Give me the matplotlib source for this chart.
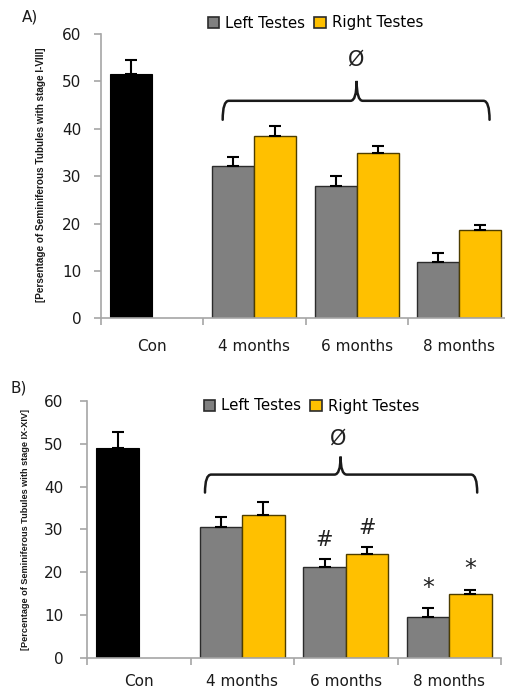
import matplotlib
matplotlib.use("Agg")
import matplotlib.pyplot as plt
import numpy as np
from matplotlib.path import Path
from matplotlib.patches import PathPatch, Patch

categories = ["Con", "4 months", "6 months", "8 months"]

# Panel A (stage I-VIII)
a_con, a_con_err = 51.5, 3.1
a_left = [32.2, 28.0, 11.9]
a_left_err = [1.8, 2.1, 1.8]
a_right = [38.4, 34.9, 18.7]
a_right_err = [2.2, 1.4, 0.9]

# Panel B (stage IX-XIV)
b_con, b_con_err = 49.1, 3.6
b_left = [30.5, 21.1, 9.4]
b_left_err = [2.3, 2.0, 2.1]
b_right = [33.3, 24.2, 14.9]
b_right_err = [3.1, 1.7, 1.0]

b_left_marks = ["", "#", "*"]
b_right_marks = ["", "#", "*"]

GRAY = "#808080"
YEL = "#FFC000"
BLK = "#000000"
AXC = "#A6A6A6"

fig = plt.figure(figsize=(5.05, 6.89), dpi=100)


def brace(ax, x0, x1, xc, yh, yend, ypk, rx=0.06):
    verts = [
        (x0, yend), (x0, yh), (x0 + rx, yh),
        (xc - rx, yh), (xc, yh), (xc, ypk),
        (xc, yh), (xc + rx, yh),
        (x1 - rx, yh), (x1, yh), (x1, yend),
    ]
    codes = [Path.MOVETO, Path.CURVE3, Path.CURVE3,
             Path.LINETO, Path.CURVE3, Path.CURVE3,
             Path.CURVE3, Path.CURVE3,
             Path.LINETO, Path.CURVE3, Path.CURVE3]
    ax.add_patch(PathPatch(Path(verts, codes), fill=False, lw=1.8,
                           edgecolor="#1a1a1a", capstyle="round"))


def panel(rect, con, con_err, left, left_err, right, right_err, ylabel,
          ylab_fs, letter, letter_xy, ylab_x, xlab_pad, ytick_pad, legend_xy,
          brace_args, phi_xy, lm=None, rm=None):
    ax = fig.add_axes(rect)
    w = 0.41
    x = np.arange(len(categories))
    xs = x[1:]
    ax.bar([x[0] - w / 2], [con], w, color=BLK, edgecolor=BLK, lw=0.8, zorder=2)
    ax.errorbar([x[0] - w / 2], [con], yerr=[[0], [con_err]], fmt="none",
                ecolor="black", elinewidth=1.5, capsize=4, capthick=1.5, zorder=3)
    ax.bar(xs - w / 2, left, w, color=GRAY, edgecolor="#2b2b2b", lw=1.0, zorder=2)
    ax.bar(xs + w / 2, right, w, color=YEL, edgecolor="#4d3d00", lw=1.0, zorder=2)
    ax.errorbar(xs - w / 2, left, yerr=[np.zeros(3), left_err], fmt="none",
                ecolor="black", elinewidth=1.5, capsize=4, capthick=1.5, zorder=3)
    ax.errorbar(xs + w / 2, right, yerr=[np.zeros(3), right_err], fmt="none",
                ecolor="black", elinewidth=1.5, capsize=4, capthick=1.5, zorder=3)
    if lm is not None:
        for xi, v, e, m in zip(xs - w / 2, left, left_err, lm):
            if m:
                ax.text(xi, v + e + 2.0, m, ha="center", va="bottom",
                        fontsize=15 if m == "#" else 17, color="#222222")
        for xi, v, e, m in zip(xs + w / 2, right, right_err, rm):
            if m:
                ax.text(xi, v + e + 2.0, m, ha="center", va="bottom",
                        fontsize=15 if m == "#" else 17, color="#222222")

    ax.set_xlim(-0.5, 3.5)
    ax.set_ylim(0, 60)
    ax.set_yticks(range(0, 61, 10))
    ax.set_xticks(x)
    ax.set_xticklabels(categories, fontsize=11, color="#1a1a1a")
    ax.set_xticks(np.arange(-0.5, 4.0, 1.0), minor=True)
    ax.tick_params(axis="x", which="major", length=0, pad=xlab_pad)
    ax.tick_params(axis="x", which="minor", length=5, width=1.2, color=AXC)
    ax.tick_params(axis="y", length=5, width=1.2, color=AXC, labelsize=11,
                   labelcolor="#1a1a1a", pad=ytick_pad)
    for s in ["top", "right"]:
        ax.spines[s].set_visible(False)
    for s in ["left", "bottom"]:
        ax.spines[s].set_color(AXC)
        ax.spines[s].set_linewidth(1.2)

    brace(ax, *brace_args)
    ax.text(phi_xy[0], phi_xy[1], "\u00d8", ha="center", va="center",
            fontsize=15, color="#222222")

    fig.text(letter_xy[0], letter_xy[1], letter, fontsize=11, ha="left",
             va="center", color="#1a1a1a")
    fig.text(ylab_x[0], ylab_x[1], ylabel, rotation=90, fontsize=ylab_fs,
             fontweight="bold", ha="center", va="center",
             family="Liberation Sans", color="#1a1a1a")

    handles = [Patch(facecolor=GRAY, edgecolor="#2b2b2b", lw=1.2),
               Patch(facecolor=YEL, edgecolor="#2b2b2b", lw=1.2)]
    fig.legend(handles, ["Left Testes", "Right Testes"], ncol=2,
               loc="center left", bbox_to_anchor=legend_xy, frameon=False,
               fontsize=10.8, handlelength=0.75, handleheight=0.75,
               handletextpad=0.4, columnspacing=0.6, borderpad=0,
               borderaxespad=0)
    return ax


H = 689.0
W = 505.0

# Panel A
panel([101 / W, 1 - 318.3 / H, 409 / W, 284.3 / H],
      a_con, a_con_err, a_left, a_left_err, a_right, a_right_err,
      "[Persentage of Seminiferous Tubules with stage I-VIII]", 7.2,
      "A)", (22 / W, 1 - 17 / H), (41 / W, 1 - 175 / H), 15, 9,
      (208 / W, 1 - 23 / H),
      (0.69, 3.30, 2.0, 45.9, 41.9, 50.1), (2.0, 54.6))

# Panel B
panel([87 / W, 1 - 657.7 / H, 414 / W, 256.7 / H],
      b_con, b_con_err, b_left, b_left_err, b_right, b_right_err,
      "[Percentage of Seminiferous Tubules with stage IX-XIV]", 6.6,
      "B)", (11 / W, 1 - 388 / H), (26 / W, 1 - 529 / H), 12, 12,
      (204 / W, 1 - 406 / H),
      (0.64, 3.27, 1.95, 42.8, 38.6, 47.0), (1.93, 51.3),
      lm=b_left_marks, rm=b_right_marks)

fig.savefig("out.png", dpi=100)
